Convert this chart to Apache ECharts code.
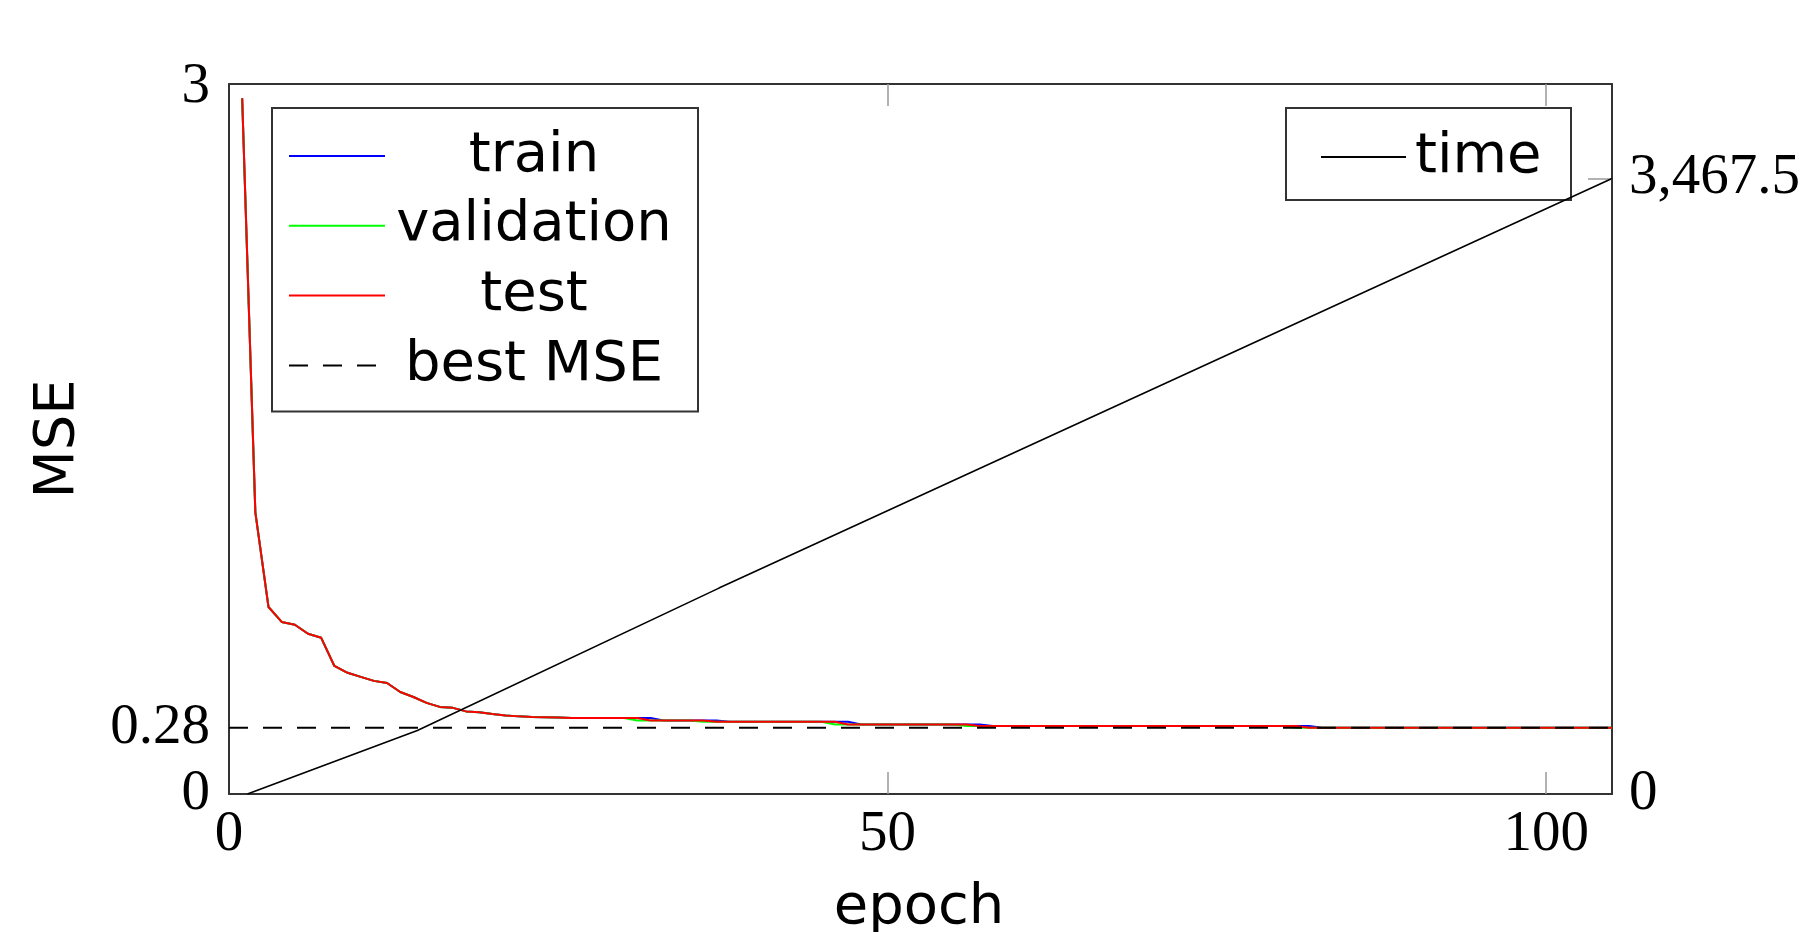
<!DOCTYPE html>
<html>
<head>
<meta charset="utf-8">
<script src="https://cdn.jsdelivr.net/npm/echarts@6/dist/echarts.min.js"></script>
<style>
  html, body { margin: 0; padding: 0; background: #fff; }
  #chart { width: 1810px; height: 932px; }
</style>
</head>
<body>
<div id="chart"></div>
<script>
// ---- data ----
// MSE per epoch, epochs 1..105
const trainMSE = [
  2.94, 1.19, 0.79, 0.727, 0.715, 0.677, 0.660, 0.541, 0.512, 0.495,
  0.478, 0.469, 0.431, 0.410, 0.385, 0.368, 0.364, 0.349, 0.345, 0.338,
  0.332, 0.328, 0.325, 0.324, 0.323, 0.321, 0.321, 0.321, 0.321, 0.321,
  0.321, 0.321, 0.311, 0.311, 0.311, 0.311, 0.311, 0.305, 0.305, 0.305,
  0.305, 0.305, 0.305, 0.305, 0.305, 0.305, 0.305, 0.294, 0.294, 0.294,
  0.294, 0.294, 0.294, 0.294, 0.294, 0.294, 0.294, 0.287, 0.287, 0.287,
  0.287, 0.287, 0.287, 0.287, 0.287, 0.287, 0.287, 0.287, 0.287, 0.287,
  0.287, 0.287, 0.287, 0.287, 0.287, 0.287, 0.287, 0.287, 0.287, 0.287,
  0.287, 0.287, 0.280, 0.280, 0.280, 0.280, 0.280, 0.280, 0.280, 0.280,
  0.280, 0.280, 0.280, 0.280, 0.280, 0.280, 0.280, 0.280, 0.280, 0.280,
  0.280, 0.280, 0.280, 0.280, 0.280
];
const validationMSE = [
  2.94, 1.19, 0.79, 0.727, 0.715, 0.677, 0.660, 0.541, 0.512, 0.495,
  0.478, 0.469, 0.431, 0.410, 0.385, 0.368, 0.364, 0.349, 0.345, 0.338,
  0.332, 0.328, 0.325, 0.324, 0.323, 0.321, 0.321, 0.321, 0.321, 0.321,
  0.311, 0.311, 0.311, 0.311, 0.311, 0.305, 0.305, 0.305, 0.305, 0.305,
  0.305, 0.305, 0.305, 0.305, 0.305, 0.294, 0.294, 0.294, 0.294, 0.294,
  0.294, 0.294, 0.294, 0.294, 0.294, 0.287, 0.287, 0.287, 0.287, 0.287,
  0.287, 0.287, 0.287, 0.287, 0.287, 0.287, 0.287, 0.287, 0.287, 0.287,
  0.287, 0.287, 0.287, 0.287, 0.287, 0.287, 0.287, 0.287, 0.287, 0.287,
  0.280, 0.280, 0.280, 0.280, 0.280, 0.280, 0.280, 0.280, 0.280, 0.280,
  0.280, 0.280, 0.280, 0.280, 0.280, 0.280, 0.280, 0.280, 0.280, 0.280,
  0.280, 0.280, 0.280, 0.280, 0.280
];
const testMSE = [
  2.94, 1.19, 0.79, 0.727, 0.715, 0.677, 0.660, 0.541, 0.512, 0.495,
  0.478, 0.469, 0.431, 0.410, 0.385, 0.368, 0.364, 0.349, 0.345, 0.338,
  0.332, 0.328, 0.325, 0.324, 0.323, 0.321, 0.321, 0.321, 0.321, 0.321,
  0.321, 0.311, 0.311, 0.311, 0.311, 0.311, 0.305, 0.305, 0.305, 0.305,
  0.305, 0.305, 0.305, 0.305, 0.305, 0.305, 0.294, 0.294, 0.294, 0.294,
  0.294, 0.294, 0.294, 0.294, 0.294, 0.294, 0.287, 0.287, 0.287, 0.287,
  0.287, 0.287, 0.287, 0.287, 0.287, 0.287, 0.287, 0.287, 0.287, 0.287,
  0.287, 0.287, 0.287, 0.287, 0.287, 0.287, 0.287, 0.287, 0.287, 0.287,
  0.287, 0.280, 0.280, 0.280, 0.280, 0.280, 0.280, 0.280, 0.280, 0.280,
  0.280, 0.280, 0.280, 0.280, 0.280, 0.280, 0.280, 0.280, 0.280, 0.280,
  0.280, 0.280, 0.280, 0.280, 0.280
];
const bestMSE = 0.28;
// cumulative training time (right axis), vertices of the drawn line
const timeEpochs = [1.4, 14.3, 37.2, 105];
const timeValues = [0, 358, 1160, 3467.5];
// axis ticks
const xTickLabels = [0, 50, 100];
const yLeftTickLabels = [0, 0.28, 3];
const yRightTickLabels = [0, 3467.5];

// ---- build ----
const toPairs = arr => arr.map((v, i) => [i + 1, v]);
const SANS = '"DejaVu Sans", sans-serif';
const SERIF = '"Liberation Serif", "DejaVu Serif", serif';
const AX = '#333';
const TICK = '#999';
const SANS_SIZE = 56;
const SERIF_SIZE = 57;

const chart = echarts.init(document.getElementById('chart'), null, { renderer: 'canvas' });
const option = {
  animation: false,
  backgroundColor: '#fff',
  grid: { left: 229, top: 84, right: 198, bottom: 138, containLabel: false },
  xAxis: [{
    type: 'value', min: 0, max: 105, interval: 50, position: 'bottom',
    axisLine: { show: true, onZero: false, lineStyle: { color: AX, width: 2 } },
    axisTick: { show: true, inside: true, length: 22, customValues: [50, 100], lineStyle: { color: TICK, width: 1.5 } },
    axisLabel: { customValues: xTickLabels, margin: 13, fontFamily: SERIF, fontSize: SERIF_SIZE, color: '#000',
      formatter: v => xTickLabels.includes(v) ? String(v) : '' },
    splitLine: { show: false }
  }, {
    type: 'value', min: 0, max: 105, interval: 50, position: 'top',
    axisLine: { show: true, onZero: false, lineStyle: { color: AX, width: 2 } },
    axisTick: { show: true, inside: true, length: 22, customValues: [50, 100], lineStyle: { color: TICK, width: 1.5 } },
    axisLabel: { show: false },
    splitLine: { show: false }
  }],
  yAxis: [{
    type: 'value', min: 0, max: 3, position: 'left',
    axisLine: { show: true, onZero: false, lineStyle: { color: AX, width: 2 } },
    axisTick: { show: false },
    axisLabel: { customValues: yLeftTickLabels, margin: 19, fontFamily: SERIF, fontSize: SERIF_SIZE, color: '#000',
      formatter: v => !yLeftTickLabels.includes(v) ? '' : (v === 3 ? '{t|' + v + '}' : String(v)),
      rich: { t: { padding: [6, 0, 0, 0], fontFamily: SERIF, fontSize: SERIF_SIZE, color: '#000' } } },
    splitLine: { show: false }
  }, {
    type: 'value', min: 0, max: 4000, position: 'right',
    axisLine: { show: true, onZero: false, lineStyle: { color: AX, width: 2 } },
    axisTick: { show: true, inside: true, length: 24, customValues: [3467.5], lineStyle: { color: TICK, width: 1.5 } },
    axisLabel: { customValues: yRightTickLabels, margin: 17, fontFamily: SERIF, fontSize: SERIF_SIZE, color: '#000',
      formatter: v => yRightTickLabels.includes(v) ? v.toLocaleString('en-US') : '' },
    splitLine: { show: false }
  }],
  legend: [{
    data: ['train', 'validation', 'test', 'best MSE'],
    orient: 'vertical', left: 272, top: 108,
    padding: [20, 20, 18, 16],
    itemWidth: 96, itemHeight: 14, itemGap: 13.8,
    itemStyle: { opacity: 0 },
    borderColor: AX, borderWidth: 2, backgroundColor: '#fff',
    formatter: n => '{c|' + n + '}',
    textStyle: { rich: { c: { width: 288, align: 'center', fontFamily: SANS, fontSize: SANS_SIZE, lineHeight: 58, color: '#000' } } }
  }, {
    data: ['time'],
    orient: 'vertical', left: 1286, top: 108,
    padding: [21, 27, 15, 34],
    itemWidth: 85, itemHeight: 14,
    itemStyle: { opacity: 0 },
    borderColor: AX, borderWidth: 2, backgroundColor: '#fff',
    formatter: n => '{c|' + n + '}',
    textStyle: { rich: { c: { width: 129, padding: [0, 0, 0, 4], align: 'left', fontFamily: SANS, fontSize: SANS_SIZE, lineHeight: 58, color: '#000' } } }
  }],
  series: [
    { name: 'train', type: 'line', symbol: 'none', data: toPairs(trainMSE), lineStyle: { color: '#0000ff', width: 2 }, itemStyle: { color: '#0000ff' }, z: 2 },
    { name: 'validation', type: 'line', symbol: 'none', data: toPairs(validationMSE), lineStyle: { color: '#00ff00', width: 2 }, itemStyle: { color: '#00ff00' }, z: 3 },
    { name: 'test', type: 'line', symbol: 'none', data: toPairs(testMSE), lineStyle: { color: '#ff0000', width: 2 }, itemStyle: { color: '#ff0000' }, z: 4 },
    { name: 'best MSE', type: 'line', symbol: 'none', data: [[0, bestMSE], [105, bestMSE]], lineStyle: { color: '#000', width: 2, type: [19, 15] }, itemStyle: { color: '#000' }, z: 5 },
    { name: 'time', type: 'line', symbol: 'none', yAxisIndex: 1, data: timeEpochs.map((e, i) => [e, timeValues[i]]), lineStyle: { color: '#000', width: 1.6 }, itemStyle: { color: '#000' }, z: 6 }
  ],
  graphic: [
    { type: 'text', x: 58, y: 439, rotation: Math.PI / 2, silent: true,
      style: { text: 'MSE', x: 0, y: 0, align: 'center', verticalAlign: 'middle', font: SANS_SIZE + 'px ' + SANS, fill: '#000' } },
    { type: 'text', x: 919, y: 880, silent: true,
      style: { text: 'epoch', x: 0, y: 0, align: 'center', verticalAlign: 'top', font: SANS_SIZE + 'px ' + SANS, fill: '#000' } }
  ]
};
chart.setOption(option);
</script>
</body>
</html>
